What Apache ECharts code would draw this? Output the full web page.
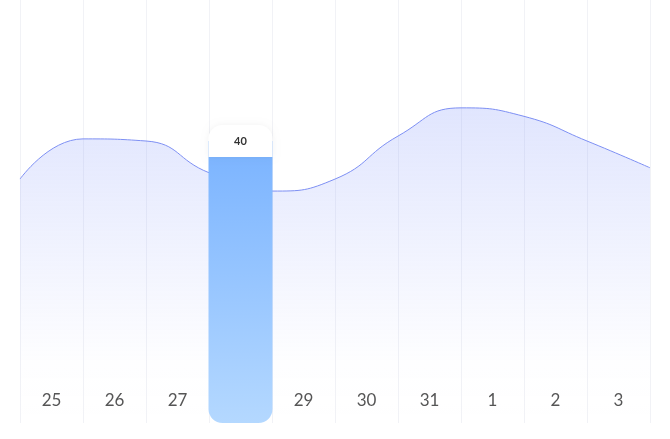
<!DOCTYPE html>
<html><head><meta charset="utf-8">
<script src="https://cdn.jsdelivr.net/npm/echarts@6/dist/echarts.min.js"></script>
<style>html,body{margin:0;padding:0;background:#fff}#c{width:670px;height:439px}</style>
</head><body><div id="c"></div>
<script>
const categories = ['25','26','27','28','29','30','31','1','2','3'];
const barValues = [null,null,null,40,null,null,null,null,null,null];
const lineX = ['a','b','c','d','e','f','g','h','i','j','k'];
const lineValues = [34.6,40.3,40,35.5,32.9,34.6,40.7,44.7,43.5,40,36.2];
const highlight = '28';
const chart = echarts.init(document.getElementById('c'));
chart.setOption({
  animation:false,
  grid:{left:20,right:20,top:0,bottom:16},
  xAxis:[{type:'category',data:categories,boundaryGap:true,
    axisLine:{show:false},axisTick:{show:false},
    splitLine:{show:true,lineStyle:{color:'#f1f2f6',width:1}},
    axisLabel:{inside:true,margin:22,fontSize:17,fontFamily:'Lato',
      color:function(v){return v===highlight?'#fff':'#555';},
      verticalAlign:'middle'}},
   {type:'category',data:lineX,boundaryGap:false,show:false}],
  yAxis:{type:'value',min:0,max:60,show:false,splitLine:{show:false}},
  series:[
   {type:'line',xAxisIndex:1,data:lineValues,smooth:true,symbol:'none',
    lineStyle:{color:'#7d8ff3',width:1},
    areaStyle:{color:new echarts.graphic.LinearGradient(0,0,0,1,[
      {offset:0,color:'rgba(130,150,250,0.35)'},{offset:0.8,color:'rgba(130,150,250,0.02)'},{offset:1,color:'rgba(255,255,255,0)'}])},z:1},
   {type:'bar',data:barValues,barWidth:64,z:3,
    itemStyle:{borderRadius:[0,0,14,14],color:new echarts.graphic.LinearGradient(0,0,0,1,[
      {offset:0,color:'#7ab3ff'},{offset:1,color:'#b4d8ff'}])},
    label:{show:true,position:'top',distance:0,formatter:'{c}',
      backgroundColor:'#fff',borderRadius:[14,14,0,0],width:64,height:32,
      align:'center',verticalAlign:'middle',lineHeight:32,
      color:'#333',fontWeight:'bold',fontSize:11,fontFamily:'Lato',
      shadowColor:'rgba(0,0,0,0.05)',shadowBlur:6}}
  ]
});
</script></body></html>
